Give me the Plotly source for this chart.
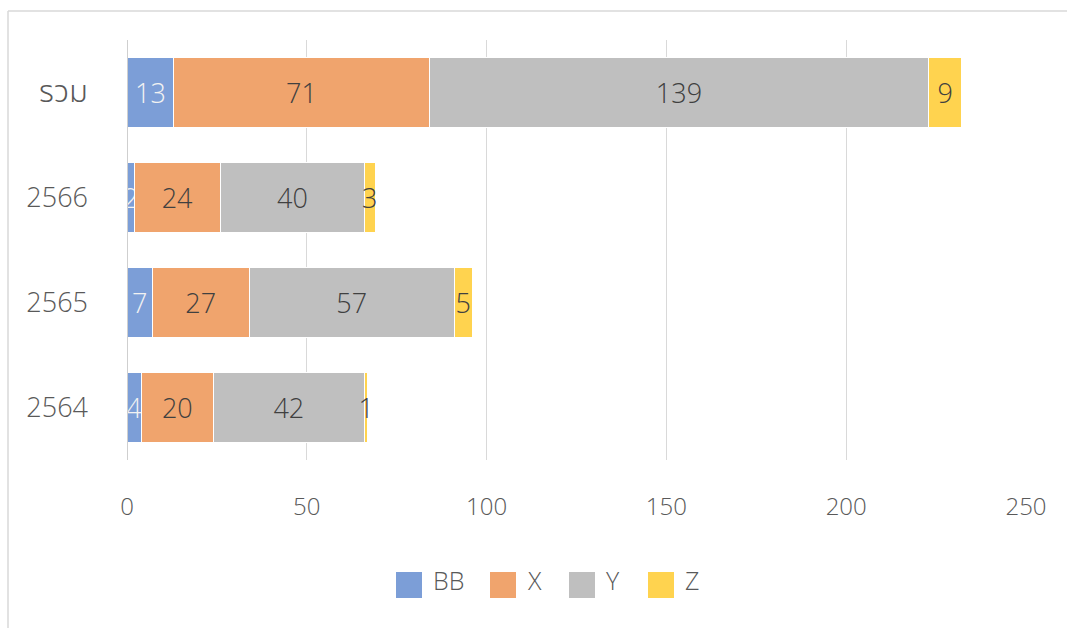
import plotly.graph_objects as go

# Categories (bottom to top) and stacked series values
categories = ["2564", "2565", "2566", "รวม"]
series_names = ["BB", "X", "Y", "Z"]
bb_values = [4, 7, 2, 13]
x_values = [20, 27, 24, 71]
y_values = [42, 57, 40, 139]
z_values = [1, 5, 3, 9]
x_ticks = [0, 50, 100, 150, 200, 250]

series_values = [bb_values, x_values, y_values, z_values]
colors = ["#7C9ED7", "#F0A46D", "#BFBFBF", "#FFD34F"]
label_colors = ["#F2F2F2", "#404040", "#404040", "#404040"]

FONT = "Open Sans, Noto Sans, sans-serif"
THAI_FONT = "Noto Sans Thai, Noto Sans Thai Looped, Sarabun, Loma, Waree, Garuda, Umpush, sans-serif"
WEIGHT = 300
W, H = 1067, 628
L, R, T, B = 127, 41, 40, 168
PW, PH = W - L - R, H - T - B


def px_x(px):
    return (px - L) / PW


def px_y(py):
    return (H - B - py) / PH


fig = go.Figure()
for name, vals, col, lcol in zip(series_names, series_values, colors, label_colors):
    fig.add_trace(go.Bar(
        name=name,
        y=categories,
        x=vals,
        orientation="h",
        marker=dict(color=col, line=dict(color="white", width=1)),
        text=[str(v) for v in vals],
        textposition="inside",
        insidetextanchor="middle",
        textangle=0,
        constraintext="none",
        textfont=dict(family=FONT, size=27, color=lcol, weight=WEIGHT),
        showlegend=False,
        hoverinfo="x+y+name",
    ))

# Legend drawn as square swatches with labels below the plot area
shapes = []
annotations = []
sw = 26
cursor = 396
top_px = 572
for name, col in zip(series_names, colors):
    shapes.append(dict(
        type="rect", xref="paper", yref="paper",
        x0=px_x(cursor), x1=px_x(cursor + sw),
        y0=px_y(top_px + sw), y1=px_y(top_px),
        fillcolor=col, line=dict(width=0),
    ))
    annotations.append(dict(
        xref="paper", yref="paper",
        x=px_x(cursor + sw + 9), y=px_y(top_px + 8),
        xanchor="left", yanchor="middle",
        text=name, showarrow=False,
        font=dict(family=FONT, size=25, color="#595959", weight=WEIGHT),
    ))
    cursor += sw + 12 + 15 * len(name) + 26

# Chart frame (left and top edges)
frame = dict(color="#D9D9D9", width=1.5)
shapes.append(dict(type="line", xref="paper", yref="paper",
                   x0=px_x(8), x1=px_x(8), y0=px_y(11), y1=px_y(H + 5), line=frame))
shapes.append(dict(type="line", xref="paper", yref="paper",
                   x0=px_x(8), x1=px_x(W + 5), y0=px_y(11), y1=px_y(11), line=frame))

# Thai category label uses a Thai-capable family
category_text = [
    c if c.isdigit()
    else '<span style="font-family:%s;font-weight:300;font-size:31px">%s</span>' % (THAI_FONT, c)
    for c in categories
]

fig.update_layout(
    barmode="stack",
    bargap=1 / 3,
    width=W,
    height=H,
    margin=dict(l=L, r=R, t=T, b=B, pad=0),
    paper_bgcolor="white",
    plot_bgcolor="white",
    font=dict(family=FONT, color="#595959", weight=WEIGHT),
    uniformtext=dict(minsize=27, mode="show"),
    shapes=shapes,
    annotations=annotations,
    showlegend=False,
)
fig.update_xaxes(
    range=[0, 250],
    tickvals=x_ticks,
    ticktext=[str(t) for t in x_ticks],
    showgrid=True,
    gridcolor="#D9D9D9",
    gridwidth=1,
    zeroline=False,
    showline=False,
    ticks="",
    tickfont=dict(family=FONT, size=24, color="#595959", weight=WEIGHT),
    ticklabelstandoff=30,
)
fig.update_yaxes(
    categoryorder="array",
    categoryarray=categories,
    tickvals=categories,
    ticktext=category_text,
    showgrid=False,
    zeroline=False,
    showline=False,
    ticks="",
    tickfont=dict(family=FONT, size=27, color="#595959", weight=WEIGHT),
    ticklabelstandoff=38,
)
# Vertical axis line at zero
fig.add_shape(type="line", xref="x", yref="paper", x0=0, x1=0, y0=0, y1=1,
              line=dict(color="#BFBFBF", width=1.5), layer="above")

fig.write_html("out.html")
